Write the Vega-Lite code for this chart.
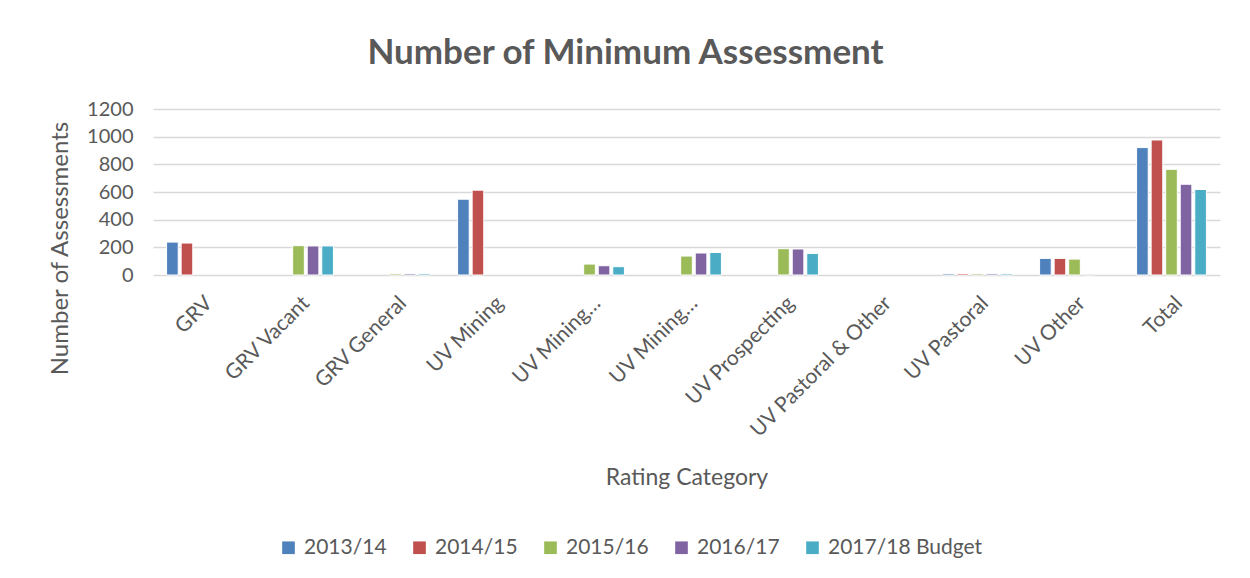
{
  "$schema": "https://vega.github.io/schema/vega-lite/v6.json",
  "width": 1067,
  "height": 166,
  "autosize": "none",
  "padding": {"left": 153, "top": 109, "right": 30, "bottom": 303},
  "background": "white",
  "title": {
    "text": "Number of Minimum Assessment",
    "font": "Lato",
    "fontSize": 35,
    "fontWeight": "bold",
    "color": "#595959",
    "anchor": "middle",
    "dx": -61,
    "offset": 28
  },
  "data": {
    "values": [
      {"key": "GRV", "year": "2013/14", "value": 238},
      {"key": "GRV", "year": "2014/15", "value": 231},
      {"key": "GRV", "year": "2015/16", "value": 0},
      {"key": "GRV", "year": "2016/17", "value": 0},
      {"key": "GRV", "year": "2017/18 Budget", "value": 0},
      {"key": "GRV Vacant", "year": "2013/14", "value": 0},
      {"key": "GRV Vacant", "year": "2014/15", "value": 0},
      {"key": "GRV Vacant", "year": "2015/16", "value": 212},
      {"key": "GRV Vacant", "year": "2016/17", "value": 210},
      {"key": "GRV Vacant", "year": "2017/18 Budget", "value": 210},
      {"key": "GRV General", "year": "2013/14", "value": 0},
      {"key": "GRV General", "year": "2014/15", "value": 0},
      {"key": "GRV General", "year": "2015/16", "value": 10},
      {"key": "GRV General", "year": "2016/17", "value": 10},
      {"key": "GRV General", "year": "2017/18 Budget", "value": 10},
      {"key": "UV Mining", "year": "2013/14", "value": 548},
      {"key": "UV Mining", "year": "2014/15", "value": 613},
      {"key": "UV Mining", "year": "2015/16", "value": 0},
      {"key": "UV Mining", "year": "2016/17", "value": 0},
      {"key": "UV Mining", "year": "2017/18 Budget", "value": 0},
      {"key": "UV Mining…#1", "year": "2013/14", "value": 0},
      {"key": "UV Mining…#1", "year": "2014/15", "value": 0},
      {"key": "UV Mining…#1", "year": "2015/16", "value": 79},
      {"key": "UV Mining…#1", "year": "2016/17", "value": 67},
      {"key": "UV Mining…#1", "year": "2017/18 Budget", "value": 60},
      {"key": "UV Mining…#2", "year": "2013/14", "value": 0},
      {"key": "UV Mining…#2", "year": "2014/15", "value": 0},
      {"key": "UV Mining…#2", "year": "2015/16", "value": 137},
      {"key": "UV Mining…#2", "year": "2016/17", "value": 159},
      {"key": "UV Mining…#2", "year": "2017/18 Budget", "value": 163},
      {"key": "UV Prospecting", "year": "2013/14", "value": 0},
      {"key": "UV Prospecting", "year": "2014/15", "value": 0},
      {"key": "UV Prospecting", "year": "2015/16", "value": 190},
      {"key": "UV Prospecting", "year": "2016/17", "value": 188},
      {"key": "UV Prospecting", "year": "2017/18 Budget", "value": 156},
      {"key": "UV Pastoral & Other", "year": "2013/14", "value": 0},
      {"key": "UV Pastoral & Other", "year": "2014/15", "value": 0},
      {"key": "UV Pastoral & Other", "year": "2015/16", "value": 0},
      {"key": "UV Pastoral & Other", "year": "2016/17", "value": 0},
      {"key": "UV Pastoral & Other", "year": "2017/18 Budget", "value": 0},
      {"key": "UV Pastoral", "year": "2013/14", "value": 10},
      {"key": "UV Pastoral", "year": "2014/15", "value": 10},
      {"key": "UV Pastoral", "year": "2015/16", "value": 10},
      {"key": "UV Pastoral", "year": "2016/17", "value": 10},
      {"key": "UV Pastoral", "year": "2017/18 Budget", "value": 10},
      {"key": "UV Other", "year": "2013/14", "value": 120},
      {"key": "UV Other", "year": "2014/15", "value": 120},
      {"key": "UV Other", "year": "2015/16", "value": 115},
      {"key": "UV Other", "year": "2016/17", "value": 6},
      {"key": "UV Other", "year": "2017/18 Budget", "value": 0},
      {"key": "Total", "year": "2013/14", "value": 921},
      {"key": "Total", "year": "2014/15", "value": 976},
      {"key": "Total", "year": "2015/16", "value": 764},
      {"key": "Total", "year": "2016/17", "value": 656},
      {"key": "Total", "year": "2017/18 Budget", "value": 618}
    ]
  },
  "transform": [{"filter": "datum.value > 0"}],
  "mark": {"type": "bar", "stroke": "white", "strokeWidth": 1},
  "encoding": {
    "x": {
      "field": "key",
      "type": "nominal",
      "sort": null,
      "scale": {
        "domain": ["GRV", "GRV Vacant", "GRV General", "UV Mining", "UV Mining…#1", "UV Mining…#2", "UV Prospecting", "UV Pastoral & Other", "UV Pastoral", "UV Other", "Total"],
        "paddingInner": 0.28,
        "paddingOuter": 0.14
      },
      "axis": {
        "title": "Rating Category",
        "titleFont": "Lato",
        "titleFontSize": 23,
        "titleFontWeight": "normal",
        "titleColor": "#595959",
        "titleBaseline": "middle",
        "titleY": 202,
        "labelExpr": "split(datum.label, '#')[0]",
        "labelAngle": -45,
        "labelFont": "Lato",
        "labelFontSize": 21,
        "labelColor": "#595959",
        "labelPadding": 17,
        "ticks": false,
        "domain": false,
        "labelLimit": 300
      }
    },
    "xOffset": {
      "field": "year",
      "type": "nominal",
      "scale": {
        "domain": ["2013/14", "2014/15", "2015/16", "2016/17", "2017/18 Budget"],
        "paddingInner": 0.2
      }
    },
    "y": {
      "field": "value",
      "type": "quantitative",
      "scale": {"domain": [0, 1200], "nice": false},
      "axis": {
        "title": "Number of Assessments",
        "titleFont": "Lato",
        "titleFontSize": 24,
        "titleFontWeight": "normal",
        "titleColor": "#595959",
        "titleX": -93,
        "titleY": 139,
        "titleBaseline": "middle",
        "values": [0, 200, 400, 600, 800, 1000, 1200],
        "format": "d",
        "labelFont": "Lato",
        "labelFontSize": 20,
        "labelColor": "#595959",
        "labelPadding": 20,
        "ticks": false,
        "domain": false,
        "grid": true,
        "gridColor": "#D9D9D9",
        "gridWidth": 1.5
      }
    },
    "color": {
      "field": "year",
      "type": "nominal",
      "scale": {
        "domain": ["2013/14", "2014/15", "2015/16", "2016/17", "2017/18 Budget"],
        "range": ["#4F81BD", "#C0504D", "#9BBB59", "#8064A2", "#4BACC6"]
      },
      "legend": {
        "title": null,
        "orient": "none",
        "direction": "horizontal",
        "legendX": 125,
        "legendY": 428,
        "columns": 5,
        "columnPadding": 22,
        "symbolType": "square",
        "symbolSize": 160,
        "symbolStrokeWidth": 0,
        "labelFont": "Lato",
        "labelFontSize": 21,
        "labelColor": "#595959",
        "labelOffset": 5
      }
    }
  },
  "config": {
    "view": {"stroke": null}
  }
}
